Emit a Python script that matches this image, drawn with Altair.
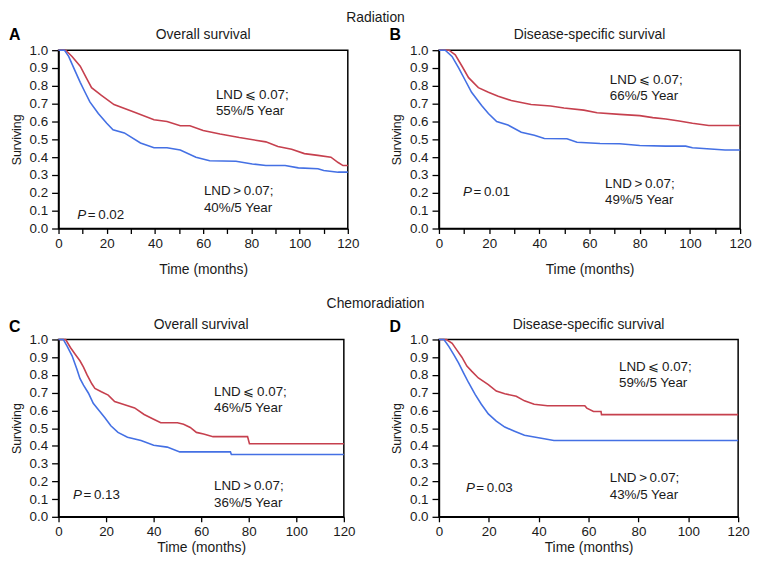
import altair as alt
import pandas as pd

# ---------------- data ----------------
# Panel A: Radiation, overall survival
a_red_t = [0, 3, 5.6, 9, 11.7, 13.7, 17.8, 23, 31, 39.6, 45, 50.5, 54.5, 60, 67, 75, 86, 91, 96.7, 102, 107.6, 113, 116, 118, 120]
a_red_s = [1.0, 1.0, 0.965, 0.91, 0.84, 0.79, 0.746, 0.695, 0.655, 0.61, 0.60, 0.576, 0.576, 0.55, 0.53, 0.51, 0.486, 0.46, 0.444, 0.42, 0.41, 0.40, 0.37, 0.353, 0.353]
a_blue_t = [0, 2.5, 4.2, 7, 9, 11, 13, 16.5, 20, 22.6, 27.3, 34, 39.6, 45, 50.5, 57, 62.7, 73.6, 80.4, 86, 94, 99.5, 107.6, 110, 116, 120]
a_blue_s = [1.0, 1.0, 0.965, 0.88, 0.82, 0.764, 0.71, 0.645, 0.59, 0.554, 0.536, 0.48, 0.453, 0.453, 0.44, 0.40, 0.38, 0.377, 0.362, 0.353, 0.353, 0.34, 0.335, 0.325, 0.316, 0.316]

# Panel B: Radiation, disease-specific survival
b_red_t = [0, 4, 6.5, 9.2, 11.8, 15.7, 19.7, 23.6, 28.8, 36.7, 44.5, 49.8, 57.7, 63, 72, 80, 85.2, 90.4, 95.7, 101, 107.5, 120]
b_red_s = [1.0, 1.0, 0.974, 0.91, 0.846, 0.79, 0.764, 0.742, 0.718, 0.695, 0.687, 0.676, 0.664, 0.649, 0.64, 0.633, 0.622, 0.614, 0.603, 0.59, 0.578, 0.578]
b_blue_t = [0, 2.5, 5.2, 7.9, 10.5, 13, 17, 19.7, 23, 27.5, 32.8, 38, 42, 51, 55, 64.2, 72, 80, 90.4, 98.3, 101, 114, 120]
b_blue_s = [1.0, 1.0, 0.965, 0.90, 0.83, 0.764, 0.69, 0.645, 0.60, 0.58, 0.54, 0.523, 0.505, 0.503, 0.484, 0.477, 0.475, 0.466, 0.462, 0.462, 0.453, 0.44, 0.44]

# Panel C: Chemoradiation, overall survival
c_red_t = [0, 3, 5, 7, 9, 10.5, 12, 14, 15.3, 18, 20.9, 23.6, 27.8, 32, 36, 40, 43, 50, 52.6, 55.4, 58, 61, 65, 79.5, 80.3, 120]
c_red_s = [1.0, 1.0, 0.955, 0.917, 0.88, 0.844, 0.80, 0.75, 0.724, 0.705, 0.686, 0.65, 0.632, 0.614, 0.577, 0.55, 0.53, 0.53, 0.522, 0.504, 0.476, 0.467, 0.452, 0.452, 0.412, 0.412]
c_blue_t = [0, 2, 3.6, 5.7, 7.7, 9, 10.5, 12.6, 14.6, 16.7, 19.5, 22, 25, 29, 34.7, 40, 45.7, 51, 72.3, 72.7, 120]
c_blue_s = [1.0, 1.0, 0.963, 0.908, 0.834, 0.78, 0.742, 0.697, 0.64, 0.605, 0.559, 0.513, 0.476, 0.449, 0.43, 0.403, 0.393, 0.366, 0.366, 0.351, 0.351]

# Panel D: Chemoradiation, disease-specific survival
d_red_t = [0, 3, 5.3, 7.2, 9.2, 11.2, 13.2, 15.8, 19.8, 23, 26.4, 31, 34.3, 38.2, 43.5, 58.5, 59.3, 62, 65, 65.2, 120]
d_red_s = [1.0, 1.0, 0.978, 0.94, 0.90, 0.85, 0.82, 0.783, 0.746, 0.709, 0.694, 0.68, 0.654, 0.635, 0.626, 0.626, 0.613, 0.594, 0.594, 0.576, 0.576]
d_blue_t = [0, 2, 4, 6, 7.9, 9.9, 11.9, 14.5, 17, 19.8, 23, 26.4, 30.3, 34.3, 38.2, 42.2, 46.1, 120]
d_blue_s = [1.0, 1.0, 0.96, 0.913, 0.867, 0.81, 0.756, 0.69, 0.635, 0.58, 0.54, 0.506, 0.483, 0.46, 0.45, 0.44, 0.43, 0.43]

panel_titles = ["Overall survival", "Disease-specific survival", "Overall survival", "Disease-specific survival"]
panel_letters = ["A", "B", "C", "D"]
section_titles = ["Radiation", "Chemoradiation"]
hi_label = "LND\u2009\u2a7d\u20090.07;"
lo_label = "LND\u2009>\u20090.07;"
hi_pct = ["55%/5 Year", "66%/5 Year", "46%/5 Year", "59%/5 Year"]
lo_pct = ["40%/5 Year", "49%/5 Year", "36%/5 Year", "43%/5 Year"]
p_values = ["=\u20090.02", "=\u20090.01", "=\u20090.13", "=\u20090.03"]
# annotation anchor points in data units (months, surviving): hi-label, lo-label, P
hi_pos = [(65.3, 0.75), (68.1, 0.834), (65.4, 0.706), (72.2, 0.844)]
lo_pos = [(60.3, 0.21), (66.2, 0.252), (65.4, 0.173), (68.5, 0.218)]
p_pos = [(7.8, 0.078), (9.6, 0.207), (6.1, 0.123), (10.8, 0.163)]

y_ticks = [0.0, 0.1, 0.2, 0.3, 0.4, 0.5, 0.6, 0.7, 0.8, 0.9, 1.0]

RED = "#c6404e"
BLUE = "#4470e4"
FONT = "Liberation Sans"
TXT = "#1a1a1a"


def curve_df(t, s, group):
    return pd.DataFrame({"time": t, "surv": s, "group": group, "idx": range(len(t))})


def text_layer(df, color=TXT, **kw):
    return alt.Chart(df).mark_text(font=FONT, color=color, **kw)


def panel(i, red_t, red_s, blue_t, blue_s, minor, width, height, section=None):
    df = pd.concat([curve_df(red_t, red_s, "low"), curve_df(blue_t, blue_s, "high")])
    x_vals = list(range(0, 121, 10)) if minor else list(range(0, 121, 20))
    common = dict(grid=False, labelOverlap=False, labelFlush=False, labelFont=FONT,
                  labelFontSize=13.5, labelColor=TXT, titleFont=FONT, titleColor=TXT,
                  titleFontWeight="normal", domainColor="black", domainWidth=1.5,
                  tickColor="black", tickWidth=1.3)
    x = alt.X("time:Q", scale=alt.Scale(domain=[0, 120], nice=False, zero=False),
              axis=alt.Axis(values=x_vals, labelExpr="datum.value % 20 == 0 ? datum.label : ''",
                            title="Time (months)", tickSize=5, labelPadding=3,
                            titlePadding=13 if i < 2 else 3, titleFontSize=14, **common))
    y = alt.Y("surv:Q", scale=alt.Scale(domain=[0, 1], nice=False),
              axis=alt.Axis(values=y_ticks, format=".1f", title="Surviving",
                            tickSize=7, labelPadding=4, titlePadding=6, titleFontSize=12.5,
                            **common))
    lines = alt.Chart(df).mark_line(strokeWidth=1.6).encode(
        x=x, y=y,
        color=alt.Color("group:N", scale=alt.Scale(domain=["low", "high"], range=[RED, BLUE]), legend=None),
        order=alt.Order("idx:Q"),
    )
    ann = pd.DataFrame({
        "time": [hi_pos[i][0], hi_pos[i][0], lo_pos[i][0], lo_pos[i][0]],
        "surv": [hi_pos[i][1], hi_pos[i][1] - 0.092, lo_pos[i][1], lo_pos[i][1] - 0.095],
        "text": [hi_label, hi_pct[i], lo_label, lo_pct[i]],
    })
    ann_layer = text_layer(ann, align="left", baseline="middle", fontSize=13.5).encode(
        x=x, y=y, text="text:N")
    pdf = pd.DataFrame({"time": [p_pos[i][0]], "surv": [p_pos[i][1]], "p": ["P"], "v": [p_values[i]]})
    p1 = text_layer(pdf, align="left", baseline="middle", fontSize=13.5, fontStyle="italic").encode(
        x=x, y=y, text="p:N")
    p2 = text_layer(pdf, align="left", baseline="middle", fontSize=13.5, dx=10.5).encode(
        x=x, y=y, text="v:N")
    top_off = -15.5 if i < 2 else -14.5
    letter = text_layer(pd.DataFrame({"t": [panel_letters[i]]}), color="black", align="left",
                        baseline="middle", fontSize=16, fontWeight="bold").encode(
        text="t:N", x=alt.value(-50), y=alt.value(top_off if i < 2 else -12.5))
    ptitle = text_layer(pd.DataFrame({"t": [panel_titles[i]]}), align="center", baseline="middle",
                        fontSize=14).encode(text="t:N", x=alt.value(width / 2), y=alt.value(top_off))
    layers = [lines, ann_layer, p1, p2, letter, ptitle]
    if section is not None:
        sec = text_layer(pd.DataFrame({"t": [section]}), align="center", baseline="middle",
                         fontSize=14).encode(text="t:N", x=alt.value(320),
                                             y=alt.value(-32 if i == 0 else -36))
        layers.append(sec)
    return alt.layer(*layers).properties(width=width, height=height)


A = panel(0, a_red_t, a_red_s, a_blue_t, a_blue_s, True, 292, 180, section=section_titles[0])
B = panel(1, b_red_t, b_red_s, b_blue_t, b_blue_s, True, 304, 180)
C = panel(2, c_red_t, c_red_s, c_blue_t, c_blue_s, False, 288, 179, section=section_titles[1])
D = panel(3, d_red_t, d_red_s, d_blue_t, d_blue_s, False, 302, 179)

chart = alt.concat(A, B, C, D, columns=2, spacing=alt.RowColnumber(row=112, column=92),
                   bounds="flush", padding=0).configure_view(
    stroke="black", strokeWidth=1.5
)

chart.save("out.html", embed_options={"renderer": "svg", "actions": False})
